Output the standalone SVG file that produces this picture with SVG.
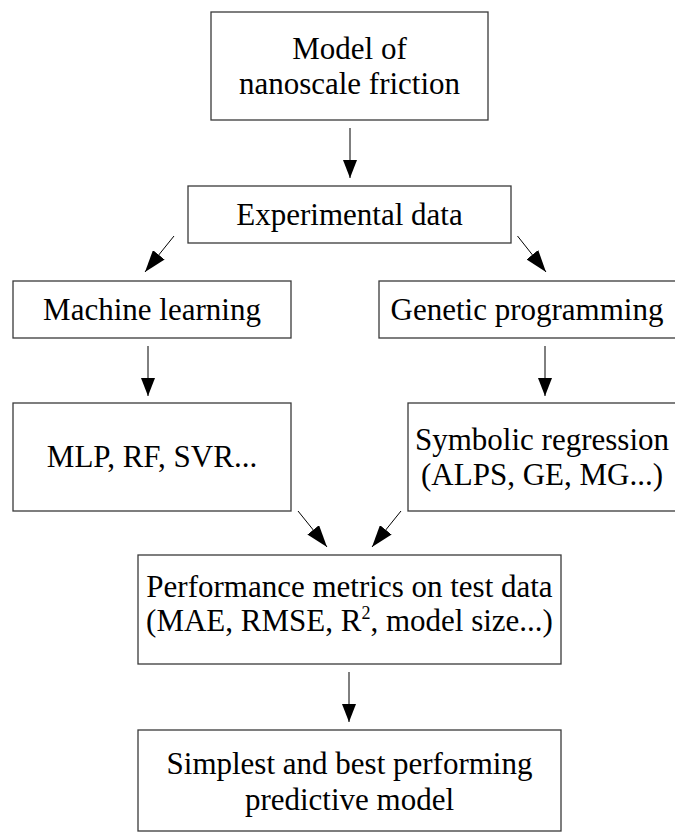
<svg xmlns="http://www.w3.org/2000/svg" width="675" height="832" viewBox="0 0 675 832">
<style>
.box{fill:#fff;stroke:#3a3a3a;stroke-width:1.3}
.t{font-family:"Liberation Serif","Times New Roman",serif;font-size:31px;fill:#000;text-anchor:middle}
.v{stroke:#000;stroke-width:1;fill:none;marker-end:url(#ah)}
.d{stroke:#000;stroke-width:1;fill:none;marker-end:url(#ahd)}
</style>
<defs>
<marker id="ah" markerUnits="userSpaceOnUse" markerWidth="18" markerHeight="14" refX="18" refY="7" orient="auto" viewBox="0 0 18 14">
<path d="M0,0 L18,7 L0,14 z" fill="#000"/>
</marker>
<marker id="ahd" markerUnits="userSpaceOnUse" markerWidth="22" markerHeight="15" refX="22" refY="7.5" orient="auto" viewBox="0 0 22 15">
<path d="M0,0 L22,7.5 L0,15 z" fill="#000"/>
</marker>
</defs>
<rect width="675" height="832" fill="#fff"/>
<g id="n1"><rect class="box" x="211" y="12" width="277" height="108"/>
<text class="t" x="349.5" y="59">Model of</text><text class="t" x="349.5" y="94">nanoscale friction</text></g>
<g id="n2"><rect class="box" x="188" y="186" width="323" height="57"/>
<text class="t" x="349.5" y="225">Experimental data</text></g>
<g id="n3"><rect class="box" x="13" y="281" width="278" height="57"/>
<text class="t" x="152" y="320">Machine learning</text></g>
<g id="n4"><rect class="box" x="379" y="281" width="300" height="57"/>
<text class="t" x="527" y="320">Genetic programming</text></g>
<g id="n5"><rect class="box" x="13" y="403" width="278" height="108"/>
<text class="t" x="152" y="467">MLP, RF, SVR...</text></g>
<g id="n6"><rect class="box" x="408" y="403" width="270" height="108"/>
<text class="t" x="542" y="450">Symbolic regression</text><text class="t" x="542" y="485">(ALPS, GE, MG...)</text></g>
<g id="n7"><rect class="box" x="138" y="555" width="423" height="109"/>
<text class="t" x="349.5" y="597">Performance metrics on test data</text>
<text class="t" x="349.5" y="631">(MAE, RMSE, R<tspan font-size="18" baseline-shift="12">2</tspan>, model size...)</text></g>
<g id="n8"><rect class="box" x="138" y="730" width="423" height="101"/>
<text class="t" x="349.5" y="774">Simplest and best performing</text><text class="t" x="349.5" y="810">predictive model</text></g>
<g id="connectors">
<line class="v" x1="350" y1="128" x2="350" y2="178"/>
<line class="d" x1="174" y1="236" x2="145" y2="272"/>
<line class="d" x1="517.5" y1="236" x2="546" y2="272"/>
<line class="v" x1="148" y1="346" x2="148" y2="396"/>
<line class="v" x1="545" y1="346" x2="545" y2="396"/>
<line class="d" x1="298" y1="511" x2="327" y2="547"/>
<line class="d" x1="401" y1="511" x2="372" y2="547"/>
<line class="v" x1="349" y1="672" x2="349" y2="722"/>
</g>
</svg>
